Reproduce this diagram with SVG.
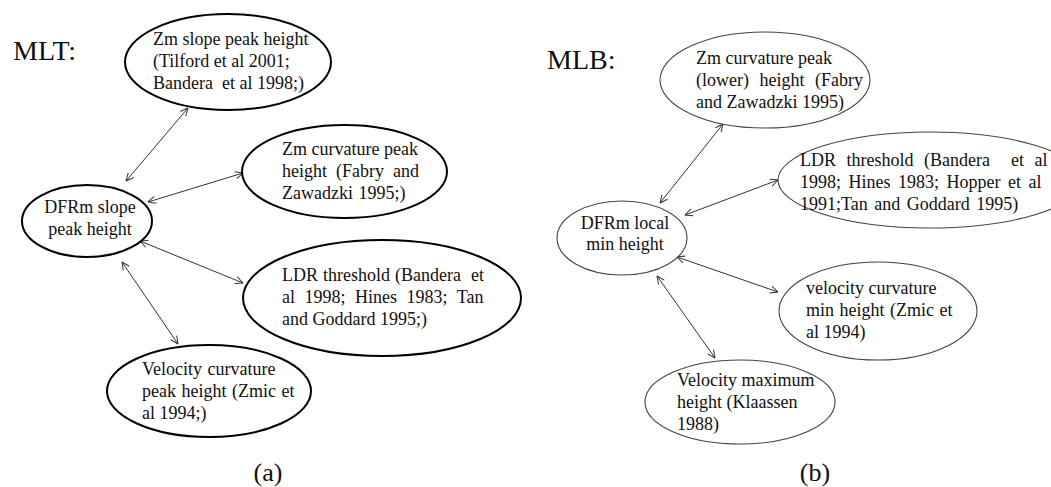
<svg xmlns="http://www.w3.org/2000/svg" width="1051" height="487" viewBox="0 0 1051 487">
<style>
.bg{fill:#fff}
.nodeA{fill:#fff;stroke:#000;stroke-width:2}
.nodeB{fill:#fff;stroke:#444;stroke-width:1.1}
.t{font-family:"Liberation Serif","Times New Roman",serif;font-size:18px;fill:#111}
.tb{font-family:"Liberation Serif","Times New Roman",serif;font-size:18px;fill:#111}
.head{font-family:"Liberation Serif","Times New Roman",serif;font-size:28px;fill:#111}
.cap{font-family:"Liberation Serif","Times New Roman",serif;font-size:26px;fill:#111}
.edge{stroke:#333;stroke-width:1;fill:none;marker-start:url(#ah);marker-end:url(#ah)}
</style>
<defs>
<marker id="ah" viewBox="0 0 10 10" refX="9.5" refY="5" markerWidth="9" markerHeight="9" markerUnits="userSpaceOnUse" orient="auto-start-reverse">
<path d="M1,1 L9.5,5 L1,9" fill="none" stroke="#333" stroke-width="1.1"/>
</marker>
</defs>
<rect class="bg" x="0" y="0" width="1051" height="487"/>

<text class="head" x="13" y="60">MLT:</text>
<text class="head" x="547" y="69">MLB:</text>

<g id="connectors">
<line class="edge" x1="126" y1="181" x2="188" y2="108"/>
<line class="edge" x1="148" y1="202" x2="243" y2="173"/>
<line class="edge" x1="140" y1="241" x2="243" y2="283"/>
<line class="edge" x1="122" y1="262" x2="178" y2="344"/>
<line class="edge" x1="660" y1="203" x2="723" y2="124"/>
<line class="edge" x1="685" y1="215" x2="778" y2="180"/>
<line class="edge" x1="677" y1="257" x2="778" y2="292"/>
<line class="edge" x1="657" y1="276" x2="715" y2="358"/>
</g>

<g id="mlt-zm-slope">
<ellipse class="nodeA" cx="228" cy="62" rx="103" ry="48"/>
<text class="t" x="153" y="45" xml:space="preserve">Zm slope peak height</text>
<text class="t" x="153" y="67" xml:space="preserve">(Tilford et al 2001;</text>
<text class="t" x="153" y="89" xml:space="preserve">Bandera  et al 1998;)</text>
</g>

<g id="mlt-zm-curvature">
<ellipse class="nodeA" cx="344.5" cy="171.5" rx="102.5" ry="46.5"/>
<text class="t" x="282" y="155">Zm curvature peak</text>
<text class="t" x="282" y="177" word-spacing="4.5">height (Fabry and</text>
<text class="t" x="282" y="199" word-spacing="1">Zawadzki 1995;)</text>
</g>

<g id="mlt-dfrm">
<ellipse class="nodeA" cx="87" cy="221" rx="65" ry="36"/>
<text class="t" x="90" y="213" text-anchor="middle">DFRm slope</text>
<text class="t" x="90" y="235" text-anchor="middle">peak height</text>
</g>

<g id="mlt-ldr">
<ellipse class="nodeA" cx="382" cy="298" rx="139" ry="58"/>
<text class="t" x="282" y="281" xml:space="preserve" word-spacing="0.5">LDR threshold (Bandera  et</text>
<text class="t" x="282" y="303" word-spacing="5">al 1998; Hines 1983; Tan</text>
<text class="t" x="282" y="325">and Goddard 1995;)</text>
</g>

<g id="mlt-velocity">
<ellipse class="nodeA" cx="209" cy="391" rx="102" ry="46"/>
<text class="t" x="142" y="375" word-spacing="1">Velocity curvature</text>
<text class="t" x="142" y="397" word-spacing="1">peak height (Zmic et</text>
<text class="t" x="142" y="419">al 1994;)</text>
</g>

<g id="mlb-zm-curvature">
<ellipse class="nodeB" cx="765" cy="80" rx="105" ry="48"/>
<text class="tb" x="696" y="64">Zm curvature peak</text>
<text class="tb" x="696" y="86" word-spacing="6">(lower) height (Fabry</text>
<text class="tb" x="696" y="108">and Zawadzki 1995)</text>
</g>

<g id="mlb-ldr">
<ellipse class="nodeB" cx="930" cy="180" rx="152" ry="48"/>
<text class="tb" x="800" y="166" xml:space="preserve" word-spacing="6">LDR threshold (Bandera  et al</text>
<text class="tb" x="800" y="188" word-spacing="3">1998; Hines 1983; Hopper et al</text>
<text class="tb" x="800" y="210" word-spacing="2">1991;Tan and Goddard 1995)</text>
</g>

<g id="mlb-dfrm">
<ellipse class="nodeB" cx="622" cy="238" rx="65" ry="37"/>
<text class="tb" x="625" y="229" text-anchor="middle">DFRm local</text>
<text class="tb" x="625" y="250" text-anchor="middle">min height</text>
</g>

<g id="mlb-velocity-curvature">
<ellipse class="nodeB" cx="878" cy="311" rx="99" ry="49"/>
<text class="tb" x="806" y="294">velocity curvature</text>
<text class="tb" x="806" y="316" word-spacing="1">min height (Zmic et</text>
<text class="tb" x="806" y="338">al 1994)</text>
</g>

<g id="mlb-velocity-max">
<ellipse class="nodeB" cx="740" cy="402" rx="95" ry="42"/>
<text class="tb" x="677" y="386">Velocity maximum</text>
<text class="tb" x="677" y="408">height (Klaassen</text>
<text class="tb" x="677" y="430">1988)</text>
</g>

<text class="cap" x="268" y="481" text-anchor="middle">(a)</text>
<text class="cap" x="815" y="481" text-anchor="middle">(b)</text>
</svg>
